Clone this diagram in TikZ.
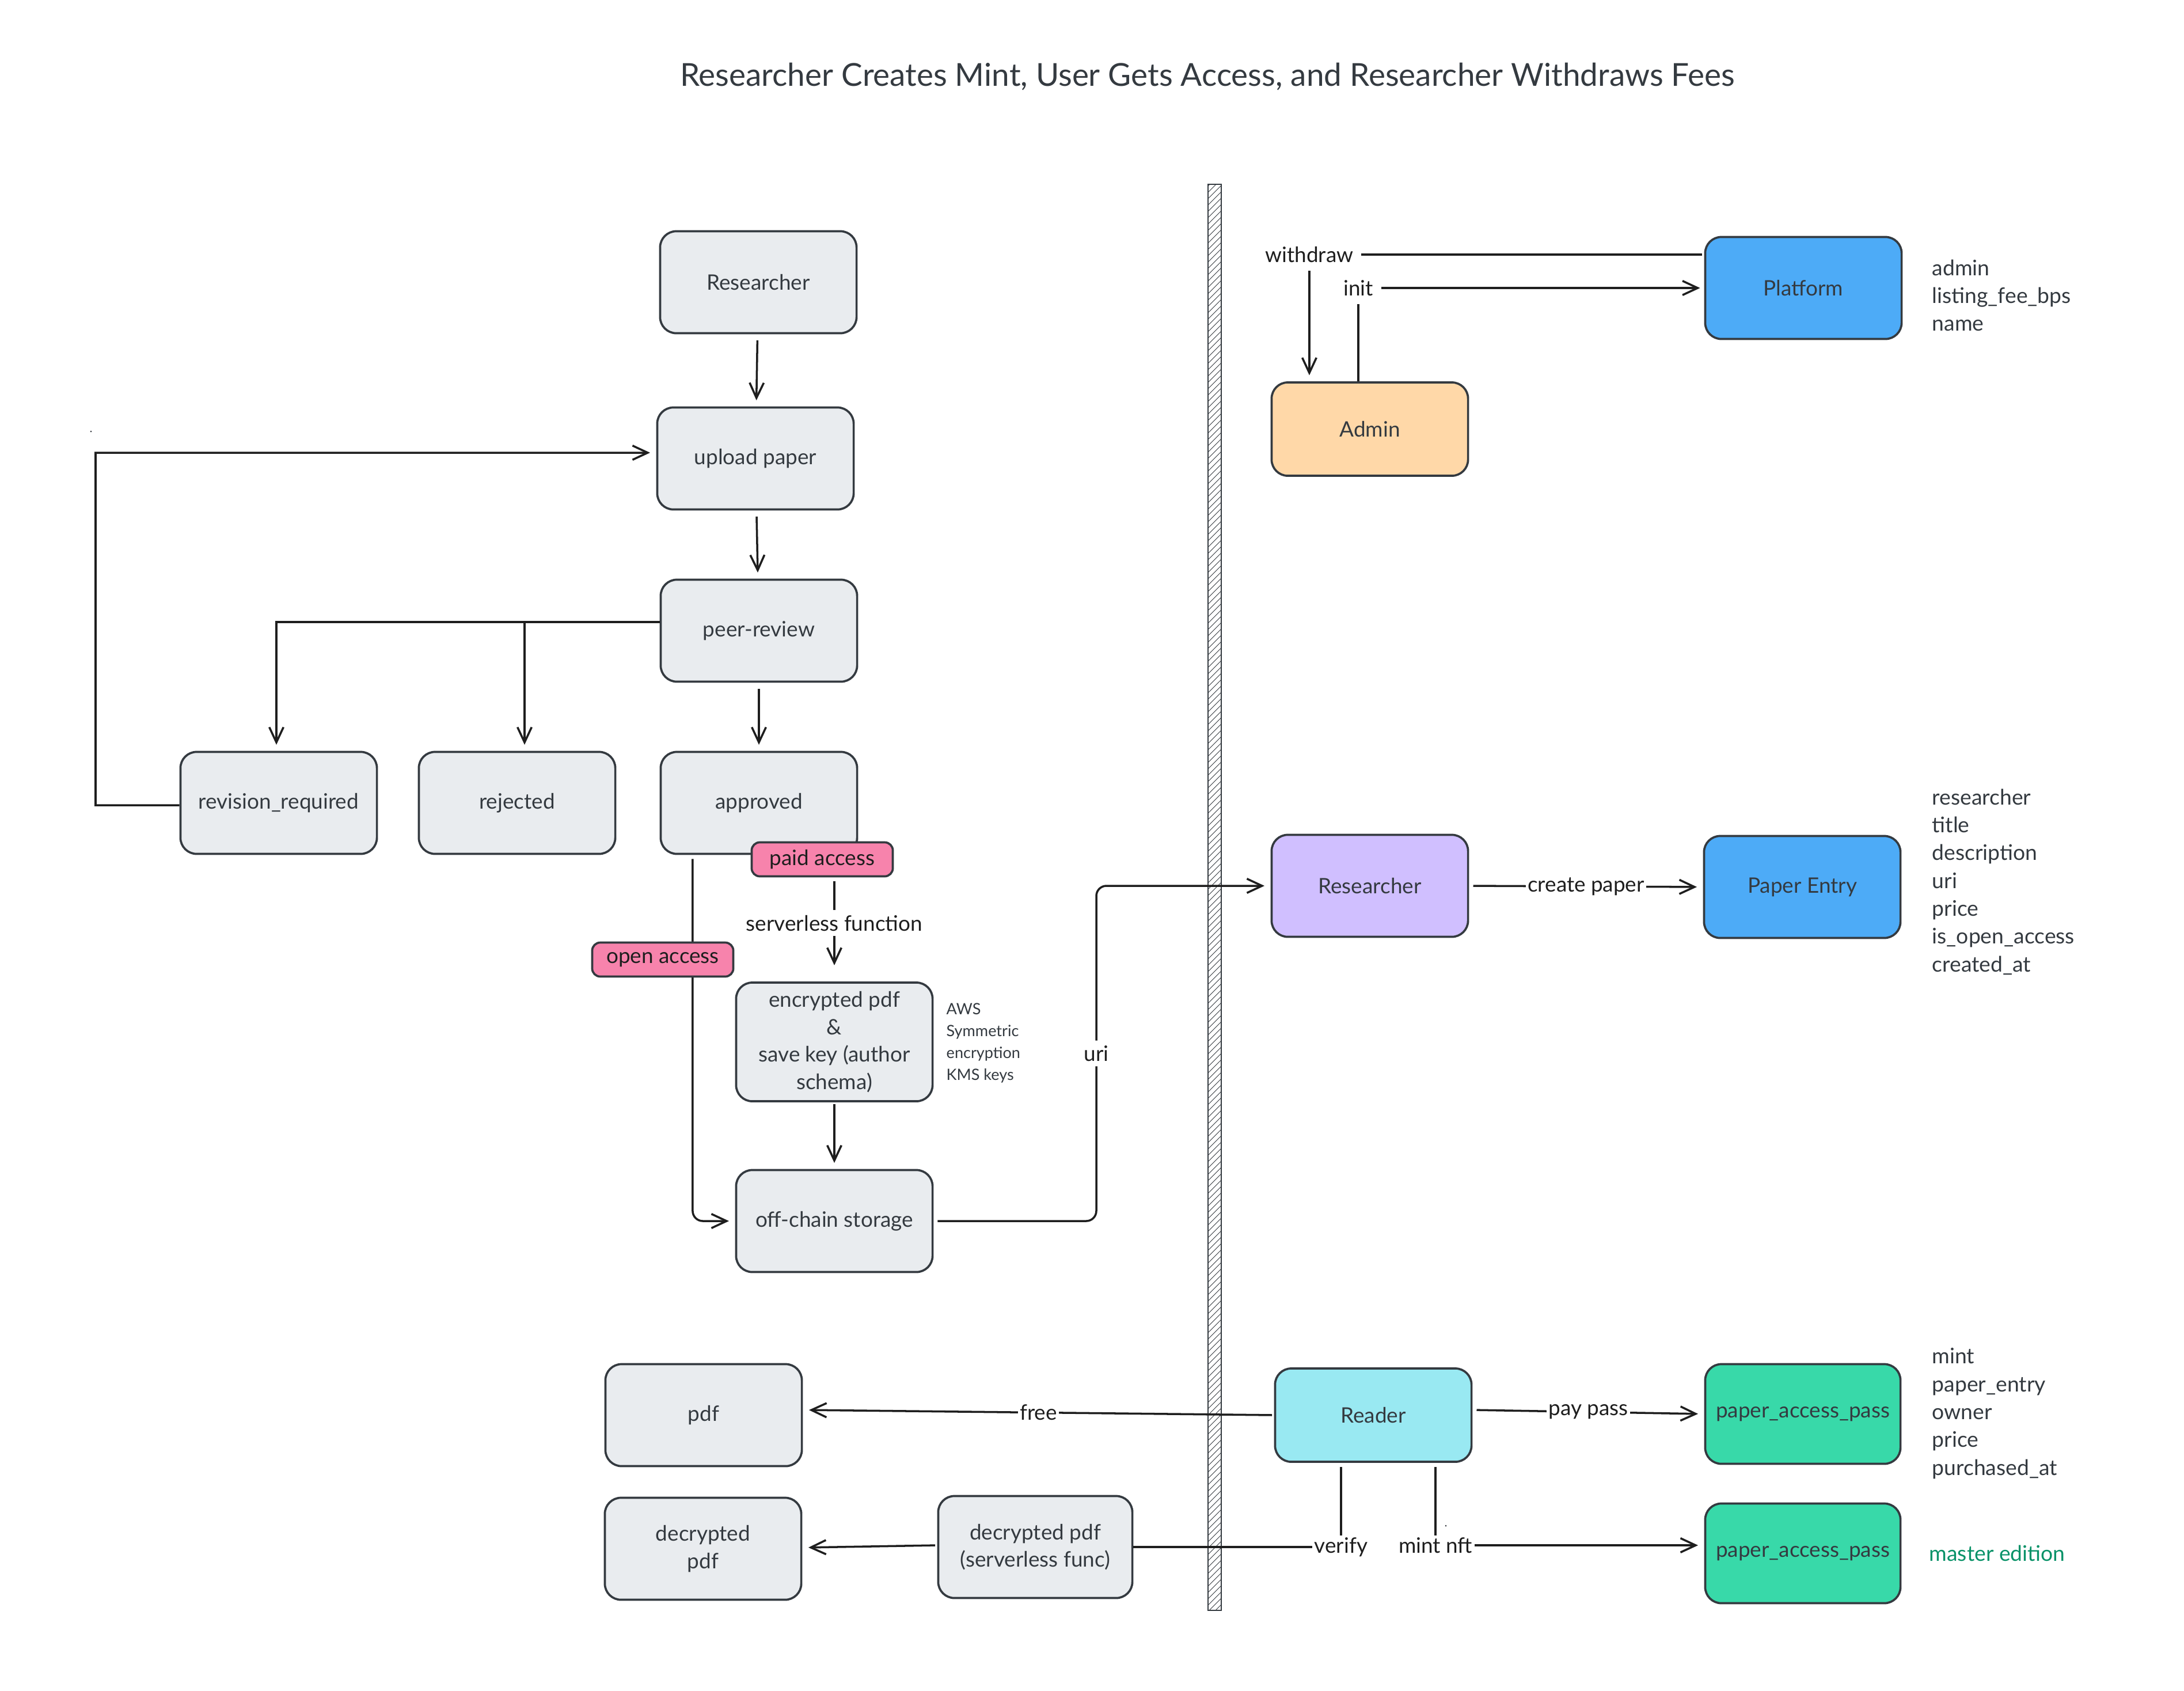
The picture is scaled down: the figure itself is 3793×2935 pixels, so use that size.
\documentclass[tikz,border=0pt]{standalone}
\usepackage{fontspec}
\setmainfont{Lato}
\usetikzlibrary{arrows.meta}

\definecolor{boxline}{HTML}{343A40}
\definecolor{lnk}{HTML}{1E1E1E}
\definecolor{txt}{HTML}{343A40}
\definecolor{greyfill}{HTML}{E9ECEF}
\definecolor{pinkfill}{HTML}{F783AC}
\definecolor{bluefill}{HTML}{4DABF7}
\definecolor{orangefill}{HTML}{FFD8A8}
\definecolor{violetfill}{HTML}{D0BFFF}
\definecolor{cyanfill}{HTML}{99E9F2}
\definecolor{greenfill}{HTML}{38D9A9}
\definecolor{mastergreen}{HTML}{099268}

\newcommand\dgmfont{\fontsize{10.5}{13.6}\selectfont}
\newcommand\dgmattrfont{\fontsize{10.6}{13.75}\selectfont}
\newcommand\dgmsmallfont{\fontsize{7.7}{10.8}\selectfont}

\tikzset{
  box/.style={draw=boxline, line width=1.05pt, rounded corners=8pt,
    minimum width=3.41cm, minimum height=1.77cm, align=center,
    text=txt, font=\dgmfont, inner sep=2pt},
  grey/.style={box, fill=greyfill},
  conn/.style={draw=lnk, line width=1pt},
  arr/.style={conn, -{Straight Barb[length=7.5pt,width=7pt]}, shorten >=3pt},
  lbl/.style={fill=white, inner sep=2.5pt, text=lnk, font=\dgmfont},
  attrs/.style={anchor=west, align=left, text=txt, font=\dgmattrfont, inner sep=0pt},
  tag/.style={draw=boxline, fill=pinkfill, line width=1.05pt, rounded corners=4pt,
    minimum width=2.45cm, minimum height=0.59cm, text=lnk, font=\dgmfont, inner sep=1pt},
}

\begin{document}
\begin{tikzpicture}[x=0.01cm, y=-0.01cm]
\useasboundingbox[fill=white] (0,0) rectangle (3793,2935);

% title
\node[text=txt, font=\fontsize{15.6}{19}\selectfont] (title) at (2097,133)
  {Researcher Creates Mint, User Gets Access, and Researcher Withdraws Fees};

% hatched divider between off-chain and on-chain parts
\fill[white] (2098,320) rectangle (2121,2796);
\begin{scope}
  \clip (2098,320) rectangle (2121,2796);
  \foreach \yy in {300,311,...,2820}
    \draw[boxline, line width=0.25pt] (2098,{\yy+23}) -- (2121,\yy);
\end{scope}
\draw[boxline, line width=0.6pt] (2098,320) rectangle (2121,2796);

% ---- submission and review flow ----
\node[grey] (r1)  at (1317,490)  {Researcher};
\node[grey] (up)  at (1312,796)  {upload paper};
\node[grey] (pr)  at (1318,1095) {peer-review};
\node[grey] (rev) at (484,1394)  {revision\_required};
\node[grey] (rej) at (898,1394)  {rejected};
\node[grey] (app) at (1318,1394) {approved};
\node[grey, minimum height=2.06cm] (enc) at (1449,1809)
  {encrypted pdf\\\&\\save key (author\\schema)};
\node[attrs, font=\dgmsmallfont] (aws) at (1643,1811) {AWS\\Symmetric\\encryption\\KMS keys};
\node[grey] (oc)  at (1449,2120) {off-chain storage};

% ---- on-chain accounts ----
\node[box, fill=bluefill]   (plat)  at (3132,500)  {Platform};
\node[attrs] (platattr) at (3355,513) {admin\\listing\_fee\_bps\\name};
\node[box, fill=orangefill, minimum height=1.62cm] (admin) at (2379,745) {Admin};
\node[box, fill=violetfill] (r2)    at (2379,1538) {Researcher};
\node[box, fill=bluefill]   (pe)    at (3130,1540) {Paper Entry};
\node[attrs] (peattr) at (3355,1531)
  {researcher\\title\\description\\uri\\price\\is\_open\_access\\created\_at};

% ---- reading flow ----
\node[box, fill=cyanfill, minimum height=1.62cm] (reader) at (2385,2457) {Reader};
\node[grey] (pdf)   at (1222,2457) {pdf};
\node[box, fill=greenfill, minimum width=3.39cm, minimum height=1.73cm] (pap1) at (3131,2455) {paper\_access\_pass};
\node[attrs] (papattr) at (3355,2454) {mint\\paper\_entry\\owner\\price\\purchased\_at};
\node[box, fill=greenfill, minimum width=3.39cm, minimum height=1.73cm] (pap2) at (3131,2697) {paper\_access\_pass};
\node[attrs, text=mastergreen] (master) at (3350,2697) {master edition};
\node[grey, minimum width=3.37cm] (sfunc) at (1798,2686) {decrypted pdf\\(serverless func)};
\node[grey] (dpdf)  at (1221,2689) {decrypted\\pdf};

% ---- connectors ----
\draw[arr, shorten <=3pt] (r1) -- (up);
\draw[arr, shorten <=3pt] (up) -- (pr);
\draw[arr] ([yshift=0.15cm]pr.west) -| ([xshift=-0.04cm]rev.north);
\draw[arr] ([yshift=0.15cm]pr.west) -| ([xshift=0.13cm]rej.north);
\draw[arr, shorten <=3pt] (pr) -- (app);

\coordinate (loopc) at (166,786);
\draw[arr] ([yshift=-0.04cm]rev.west) -| (loopc) -- ([yshift=0.1cm]up.west);

% open access route (drawn under its tag)
\draw[arr, rounded corners=5pt, shorten <=2pt] ([xshift=-1.15cm]app.south) |- (oc.west);
\node[tag] (open) at (1151,1666) {open access};
\node[tag] (paid) at (1428,1492) {paid access};

\draw[arr, shorten <=2pt, shorten >=8pt] (paid.south -| enc.north) --
  node[lbl, pos=0.44]{serverless function} (enc.north);
\draw[arr, shorten <=1pt] (enc) -- (oc);

\coordinate (uric) at (1904,1538);
\draw[arr, rounded corners=5pt, shorten <=2pt] (oc.east) -| node[lbl, pos=0.75]{uri} (uric) -- (r2.west);

\draw[arr, shorten <=1pt] ([yshift=0.58cm]plat.west) -| node[lbl, inner sep=4pt]{withdraw}
  ([xshift=-1.05cm]admin.north);
\draw[arr, shorten >=2pt] ([xshift=-0.2cm]admin.north) |- node[lbl, inner sep=4pt]{init} (plat.west);

\draw[arr, shorten <=2pt] (r2.east) -- node[lbl, inner sep=1pt]{create paper} (pe.west);

\draw[arr, shorten <=1pt] (reader.west) -- node[lbl, inner sep=1pt]{free} ([yshift=0.09cm]pdf.east);
\draw[arr, shorten <=2pt] ([yshift=0.09cm]reader.east) -- node[lbl, inner sep=1pt]{pay pass} (pap1.west);
\draw[conn, shorten <=2pt] ([xshift=-0.56cm]reader.south) |- node[lbl, inner sep=1pt]{verify} (sfunc.east);
\draw[arr, shorten <=2pt] ([xshift=1.08cm]reader.south) |- node[lbl, inner sep=1pt]{mint nft}
  ([yshift=0.14cm]pap2.west);
\draw[arr, shorten <=1pt] ([yshift=0.03cm]sfunc.west) -- ([yshift=0.02cm]dpdf.east);

% stray marks
\fill[boxline] (158,749) circle (1.5);
\fill[boxline] (2511,2649) circle (1.5);
\end{tikzpicture}
\end{document}
